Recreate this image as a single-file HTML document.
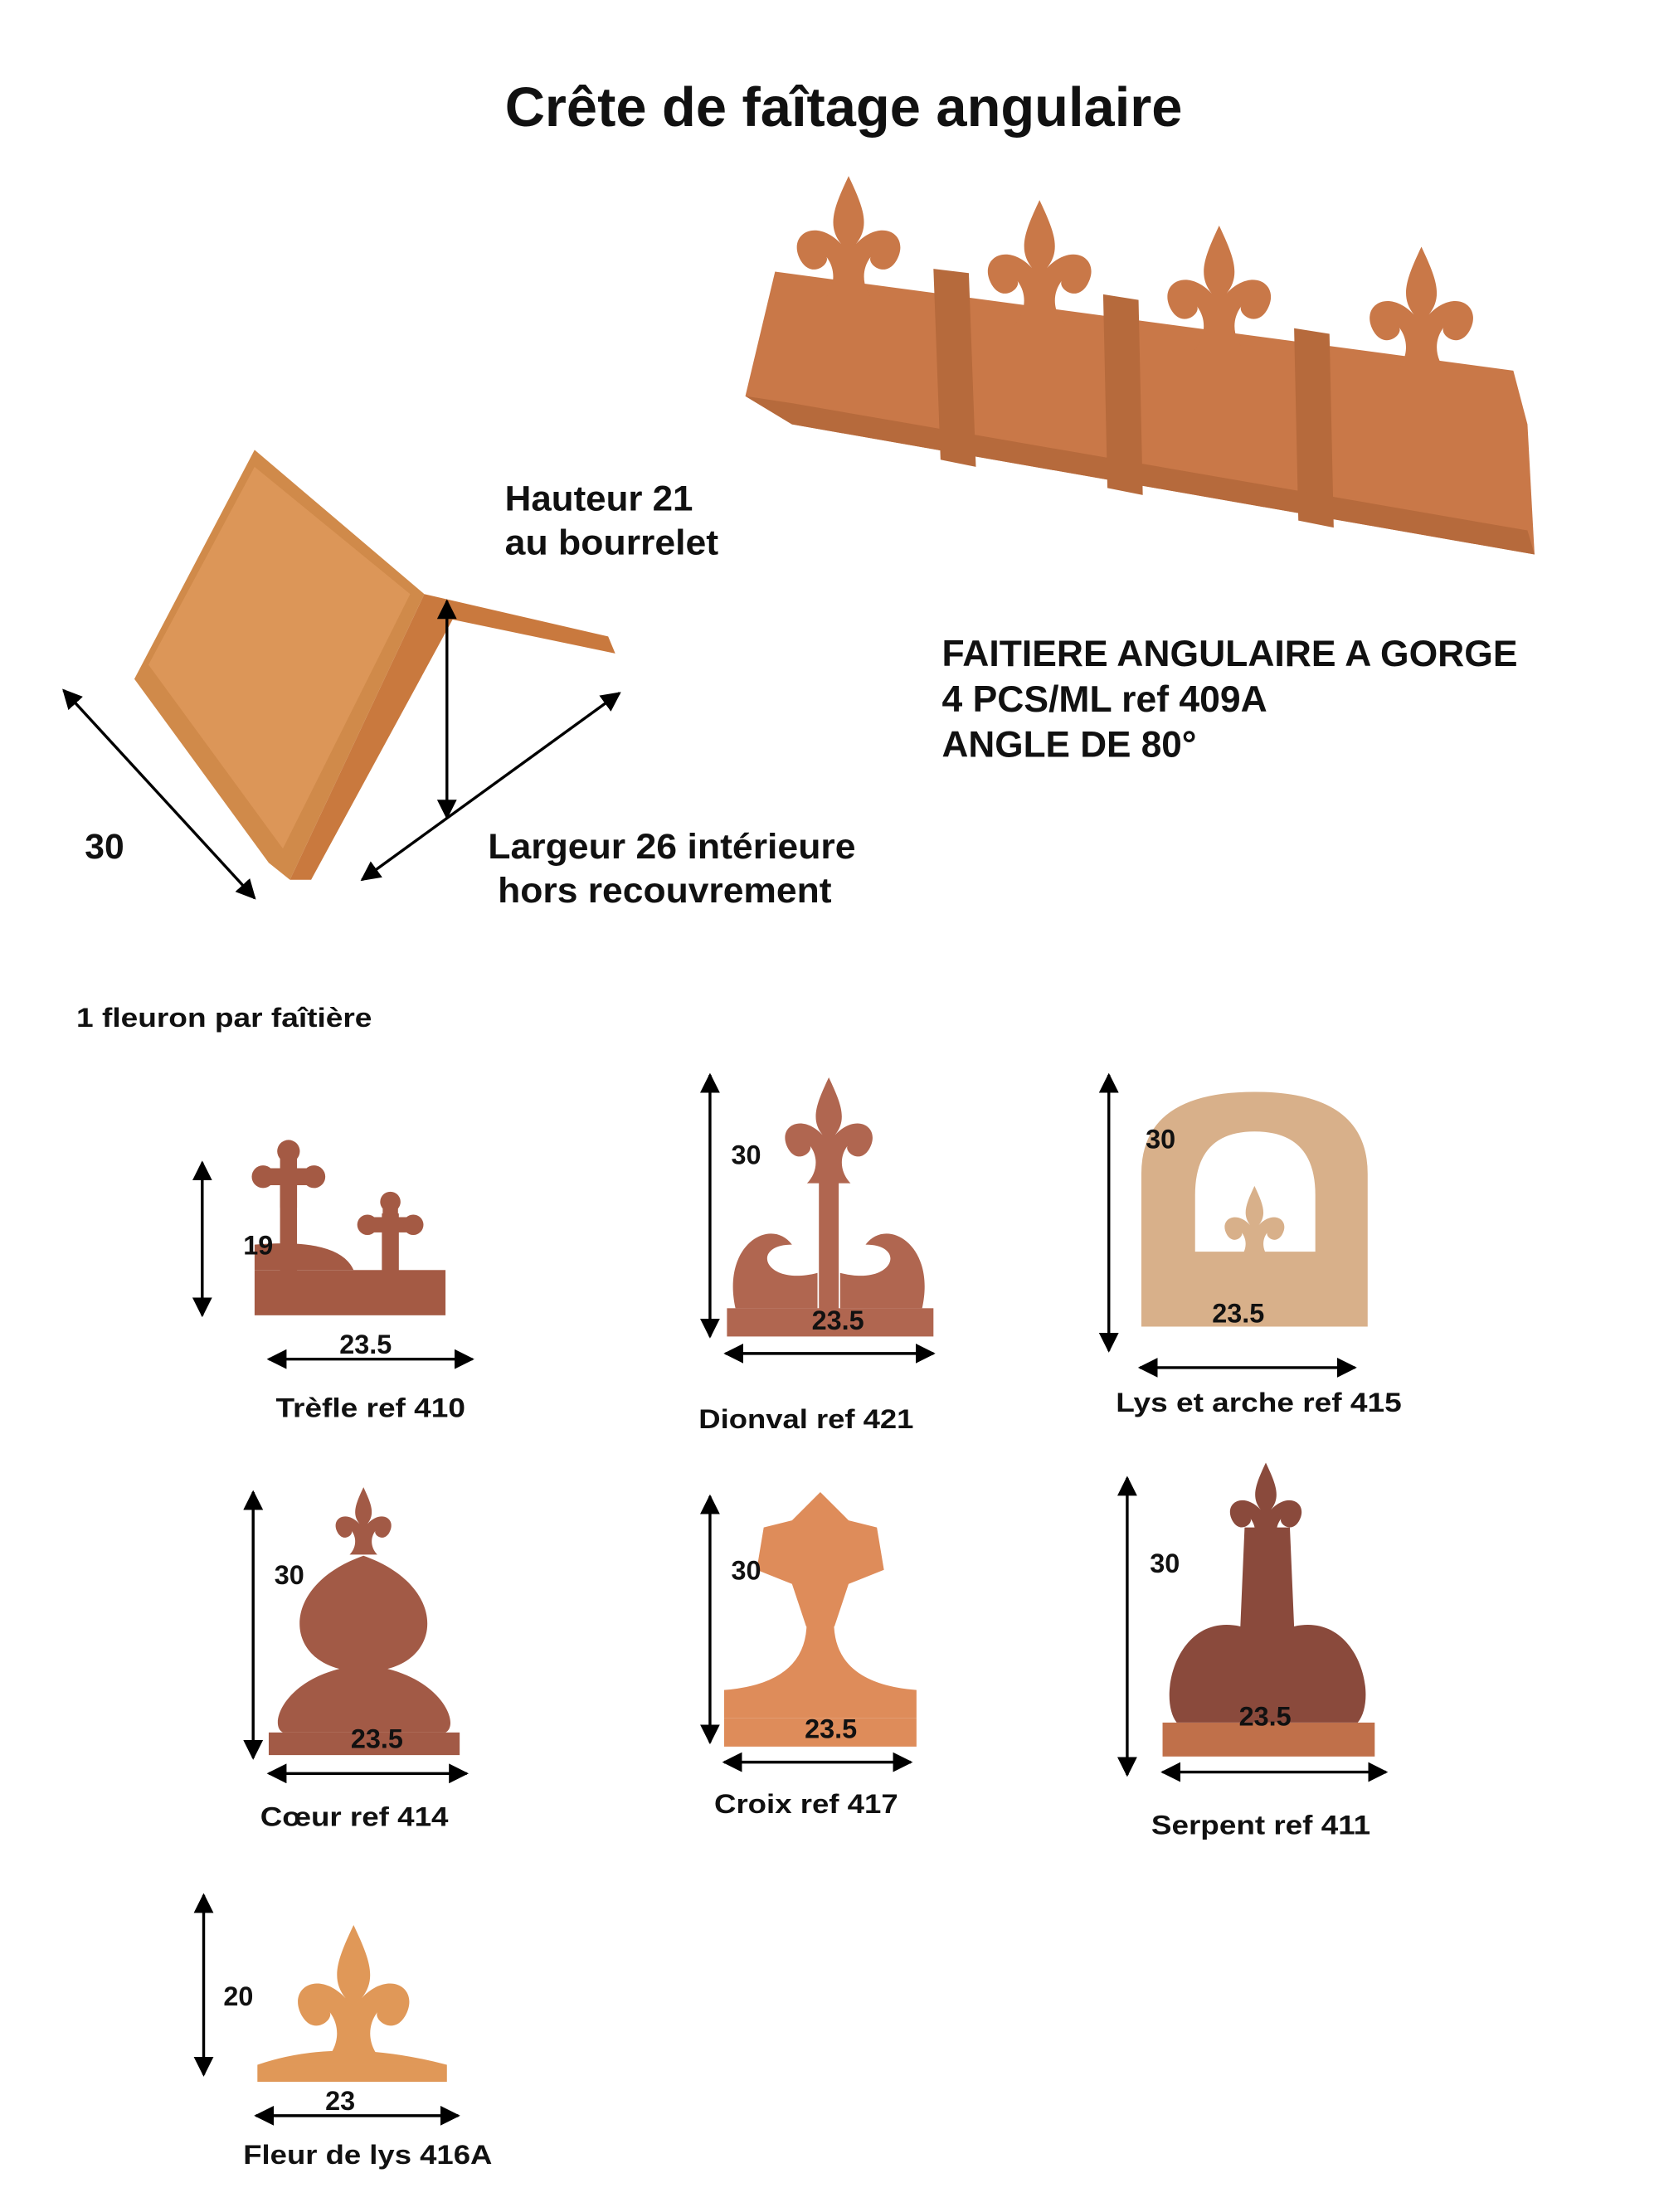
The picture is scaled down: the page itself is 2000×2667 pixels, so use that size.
<!DOCTYPE html>
<html><head><meta charset="utf-8"><style>
html,body{margin:0;padding:0;background:#fff;}
svg{display:block}
text{font-family:"Liberation Sans",Arial,sans-serif;font-weight:bold;fill:#111}
</style></head><body>
<svg width="2000" height="2667" viewBox="0 0 1173 1564" xmlns="http://www.w3.org/2000/svg">
<defs>
<marker id="ah" viewBox="0 0 10 10" refX="9" refY="5" markerWidth="7" markerHeight="7" orient="auto-start-reverse"><path d="M0,0L10,5L0,10z" fill="#000"/></marker>
<g id="fl"><path d="M0,-62 C-8,-45 -12,-35 -4,-25 C-18,-40 -34,-30 -26,-16 C-20,-6 -10,-14 -12,-18 C-6,-10 -8,0 -14,6 L14,6 C8,0 6,-10 12,-18 C10,-14 20,-6 26,-16 C34,-30 18,-40 4,-25 C12,-35 8,-45 0,-62Z"/></g>
<g id="cr"><rect x="-6" y="-22" width="12" height="44"/><rect x="-22" y="-6" width="44" height="12"/><circle cx="0" cy="-18" r="8"/><circle cx="-18" cy="0" r="8"/><circle cx="18" cy="0" r="8"/></g>
</defs>
<text x="357" y="89" font-size="39" textLength="479" lengthAdjust="spacingAndGlyphs">Crête de faîtage angulaire</text>

<!-- ridge tile top right -->
<g fill="#c97848">
<polygon points="548,192 1070,262 1080,300 1085,392 560,300 527,280"/>
<use href="#fl" transform="translate(600,205) scale(1.3)"/>
<use href="#fl" transform="translate(735,222) scale(1.3)"/>
<use href="#fl" transform="translate(862,240) scale(1.3)"/>
<use href="#fl" transform="translate(1005,255) scale(1.3)"/>
</g>
<g fill="#b66a3c">
<polygon points="660,190 685,193 690,330 665,325"/>
<polygon points="780,208 805,212 808,350 783,345"/>
<polygon points="915,232 940,236 943,373 918,368"/>
<polygon points="527,280 560,300 1085,392 1080,375 560,285"/>
</g>

<!-- left tile -->
<polygon points="180,318 300,420 205,622 190,610 95,480" fill="#d08a4a"/>
<polygon points="105,470 180,330 290,420 200,600" fill="#dc9658"/>
<polygon points="300,420 430,450 435,462 320,438 220,622 205,622" fill="#c9793e"/>
<line x1="316" y1="425" x2="316" y2="578" stroke="#000" stroke-width="2" marker-start="url(#ah)" marker-end="url(#ah)"/>
<line x1="45" y1="488" x2="180" y2="635" stroke="#000" stroke-width="2" marker-start="url(#ah)" marker-end="url(#ah)"/>
<line x1="256" y1="622" x2="438" y2="490" stroke="#000" stroke-width="2" marker-start="url(#ah)" marker-end="url(#ah)"/>
<text x="357" y="361" font-size="25" textLength="133" lengthAdjust="spacingAndGlyphs">Hauteur 21</text>
<text x="357" y="392" font-size="25" textLength="151" lengthAdjust="spacingAndGlyphs">au bourrelet</text>
<text x="666" y="471" font-size="26" font-weight="normal" textLength="407" lengthAdjust="spacingAndGlyphs">FAITIERE ANGULAIRE A GORGE</text>
<text x="666" y="503" font-size="26" font-weight="normal" textLength="230" lengthAdjust="spacingAndGlyphs">4 PCS/ML ref 409A</text>
<text x="666" y="535" font-size="26" font-weight="normal" textLength="180" lengthAdjust="spacingAndGlyphs">ANGLE DE 80°</text>
<text x="60" y="607" font-size="25">30</text>
<text x="345" y="607" font-size="25" textLength="260" lengthAdjust="spacingAndGlyphs">Largeur 26 intérieure</text>
<text x="352" y="638" font-size="25" textLength="236" lengthAdjust="spacingAndGlyphs">hors recouvrement</text>
<text x="54" y="726" font-size="19" textLength="209" lengthAdjust="spacingAndGlyphs">1 fleuron par faîtière</text>

<!-- Trefle -->
<g fill="#a45a44"><rect x="180" y="898" width="135" height="32"/><rect x="198" y="830" width="12" height="80"/><use href="#cr" transform="translate(204,832)"/><rect x="270" y="858" width="12" height="50"/><use href="#cr" transform="translate(276,866) scale(0.9)"/><path d="M180,898 L180,880 Q240,875 250,898Z"/></g>
<line x1="143" y1="822" x2="143" y2="930" stroke="#000" stroke-width="2" marker-start="url(#ah)" marker-end="url(#ah)"/>
<line x1="190" y1="961" x2="334" y2="961" stroke="#000" stroke-width="2" marker-start="url(#ah)" marker-end="url(#ah)"/>
<text x="172" y="887" font-size="19">19</text><text x="240" y="957" font-size="19">23.5</text>
<text x="195" y="1002" font-size="19" textLength="134" lengthAdjust="spacingAndGlyphs">Trèfle ref 410</text>

<!-- Dionval -->
<g fill="#b06650"><rect x="514" y="925" width="146" height="20"/><use href="#fl" transform="translate(586,830) scale(1.1)"/><rect x="579" y="830" width="14" height="100"/><path d="M520,925 C510,880 545,860 560,880 C530,880 540,910 578,900 L578,925Z M652,925 C662,880 627,860 612,880 C642,880 632,910 594,900 L594,925Z"/></g>
<line x1="502" y1="760" x2="502" y2="945" stroke="#000" stroke-width="2" marker-start="url(#ah)" marker-end="url(#ah)"/>
<line x1="513" y1="957" x2="660" y2="957" stroke="#000" stroke-width="2" marker-start="url(#ah)" marker-end="url(#ah)"/>
<text x="517" y="823" font-size="19">30</text><text x="574" y="940" font-size="19">23.5</text>
<text x="494" y="1010" font-size="19" textLength="152" lengthAdjust="spacingAndGlyphs">Dionval ref 421</text>

<!-- Lys et arche -->
<path d="M807,938 L807,830 Q807,772 887,772 Q967,772 967,830 L967,938Z M845,885 L930,885 L930,845 Q930,800 887,800 Q845,800 845,845Z" fill="#d8b08a" fill-rule="evenodd"/>
<use href="#fl" transform="translate(887,885) scale(0.75)" fill="#d8b08a"/>
<line x1="784" y1="760" x2="784" y2="955" stroke="#000" stroke-width="2" marker-start="url(#ah)" marker-end="url(#ah)"/>
<line x1="806" y1="967" x2="958" y2="967" stroke="#000" stroke-width="2" marker-start="url(#ah)" marker-end="url(#ah)"/>
<text x="810" y="812" font-size="19">30</text><text x="857" y="935" font-size="19">23.5</text>
<text x="789" y="998" font-size="19" textLength="202" lengthAdjust="spacingAndGlyphs">Lys et arche ref 415</text>

<!-- Coeur -->
<g fill="#a25a46"><rect x="190" y="1225" width="135" height="16"/><use href="#fl" transform="translate(257,1095) scale(0.7)"/><path d="M257,1100 C200,1120 200,1170 240,1180 C200,1190 190,1220 200,1225 L315,1225 C325,1220 314,1190 274,1180 C314,1170 314,1120 257,1100Z"/></g>
<line x1="179" y1="1055" x2="179" y2="1243" stroke="#000" stroke-width="2" marker-start="url(#ah)" marker-end="url(#ah)"/>
<line x1="190" y1="1254" x2="330" y2="1254" stroke="#000" stroke-width="2" marker-start="url(#ah)" marker-end="url(#ah)"/>
<text x="194" y="1120" font-size="19">30</text><text x="248" y="1236" font-size="19">23.5</text>
<text x="184" y="1291" font-size="19" textLength="133" lengthAdjust="spacingAndGlyphs">Cœur ref 414</text>

<!-- Croix -->
<g fill="#de8c5a"><rect x="512" y="1215" width="136" height="20"/><path d="M512,1215 L512,1195 Q575,1190 570,1140 L590,1140 Q585,1190 648,1195 L648,1215Z"/><path d="M580,1055 L600,1075 L620,1080 L625,1110 L600,1120 L590,1150 L570,1150 L560,1120 L535,1110 L540,1080 L560,1075Z"/></g>
<line x1="502" y1="1058" x2="502" y2="1232" stroke="#000" stroke-width="2" marker-start="url(#ah)" marker-end="url(#ah)"/>
<line x1="512" y1="1246" x2="644" y2="1246" stroke="#000" stroke-width="2" marker-start="url(#ah)" marker-end="url(#ah)"/>
<text x="517" y="1117" font-size="19">30</text><text x="569" y="1229" font-size="19">23.5</text>
<text x="505" y="1282" font-size="19" textLength="130" lengthAdjust="spacingAndGlyphs">Croix ref 417</text>

<!-- Serpent -->
<g fill="#8a4a3c"><rect x="822" y="1218" width="150" height="24" fill="#c0704a"/><use href="#fl" transform="translate(895,1090) scale(0.9)"/><path d="M880,1080 L912,1080 L915,1150 C960,1140 975,1200 960,1218 L832,1218 C818,1200 832,1140 877,1150Z"/></g>
<line x1="797" y1="1045" x2="797" y2="1255" stroke="#000" stroke-width="2" marker-start="url(#ah)" marker-end="url(#ah)"/>
<line x1="822" y1="1253" x2="980" y2="1253" stroke="#000" stroke-width="2" marker-start="url(#ah)" marker-end="url(#ah)"/>
<text x="813" y="1112" font-size="19">30</text><text x="876" y="1220" font-size="19">23.5</text>
<text x="814" y="1297" font-size="19" textLength="155" lengthAdjust="spacingAndGlyphs">Serpent ref 411</text>

<!-- Fleur de lys -->
<g fill="#e09858"><rect x="182" y="1460" width="134" height="12"/><use href="#fl" transform="translate(250,1448) scale(1.4)"/><path d="M182,1460 Q240,1440 316,1460Z"/></g>
<line x1="144" y1="1340" x2="144" y2="1467" stroke="#000" stroke-width="2" marker-start="url(#ah)" marker-end="url(#ah)"/>
<line x1="181" y1="1496" x2="324" y2="1496" stroke="#000" stroke-width="2" marker-start="url(#ah)" marker-end="url(#ah)"/>
<text x="158" y="1418" font-size="19">20</text><text x="230" y="1492" font-size="19">23</text>
<text x="172" y="1530" font-size="19" textLength="176" lengthAdjust="spacingAndGlyphs">Fleur de lys 416A</text>
</svg>
</body></html>
